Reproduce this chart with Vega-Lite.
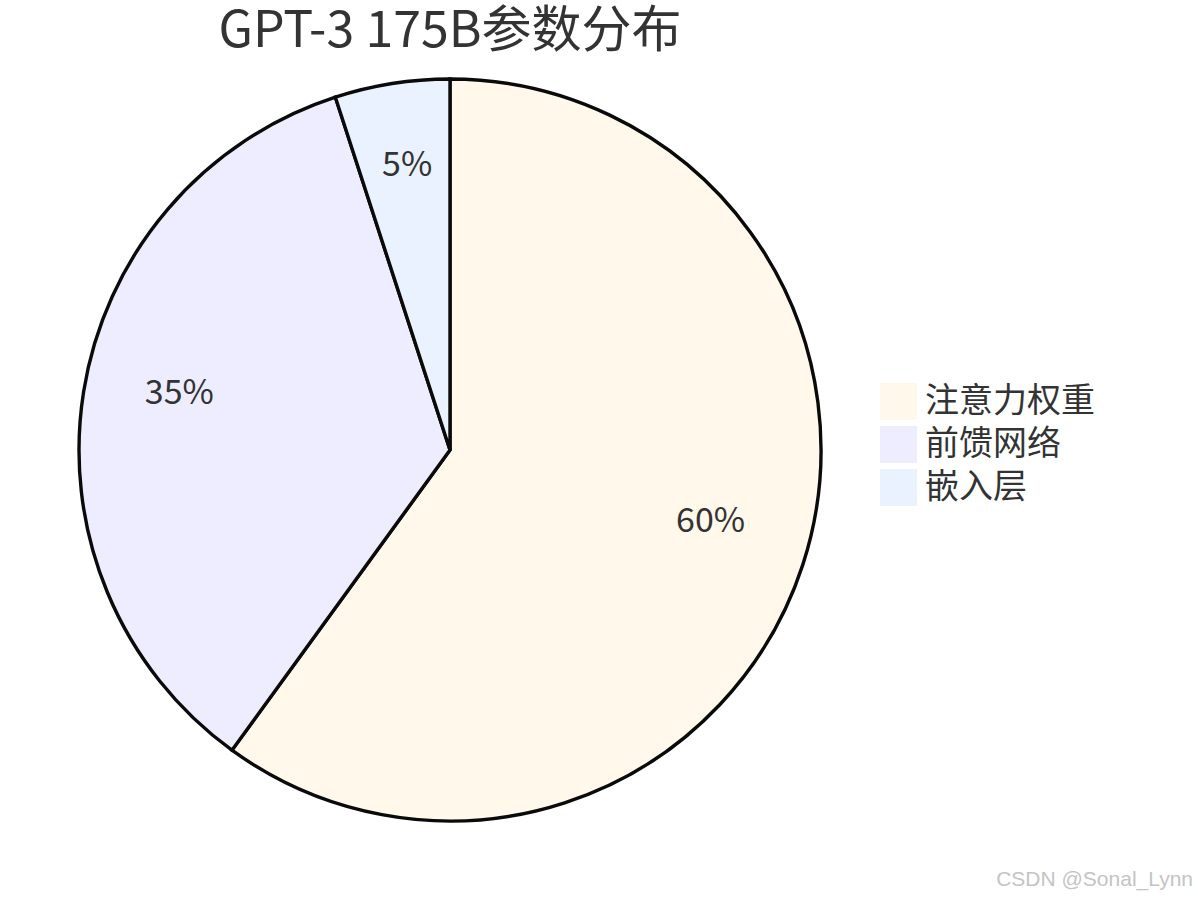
{
  "$schema": "https://vega.github.io/schema/vega-lite/v6.json",
  "width": 744,
  "height": 744,
  "autosize": {"type": "none"},
  "padding": {"left": 78, "top": 78, "right": 376, "bottom": 78},
  "background": "white",
  "config": {"view": {"stroke": null}, "font": "Noto Sans CJK SC"},
  "title": {
    "text": "GPT-3 175B参数分布",
    "font": "Noto Sans CJK SC",
    "fontSize": 50,
    "fontWeight": "normal",
    "color": "#333333",
    "anchor": "middle",
    "baseline": "alphabetic",
    "offset": -25
  },
  "layer": [
    {
      "data": {
        "values": [
          {"类别": "注意力权重", "占比": 60, "序": 1, "标签": "60%"},
          {"类别": "前馈网络", "占比": 35, "序": 2, "标签": "35%"},
          {"类别": "嵌入层", "占比": 5, "序": 3, "标签": "5%"}
        ]
      },
      "encoding": {
        "theta": {"field": "占比", "type": "quantitative", "stack": true},
        "order": {"field": "序", "type": "quantitative"}
      },
      "layer": [
        {
          "mark": {"type": "arc", "outerRadius": 371, "stroke": "#0a0a0a", "strokeWidth": 3.4},
          "encoding": {
            "color": {
              "field": "类别",
              "type": "nominal",
              "scale": {"domain": ["注意力权重", "前馈网络", "嵌入层"], "range": ["#fff8eb", "#eeedff", "#eaf2ff"]},
              "legend": {
                "title": null,
                "orient": "none",
                "legendX": 802,
                "legendY": 305,
                "symbolType": "square",
                "symbolSize": 1369,
                "symbolStrokeWidth": 0,
                "labelFont": "Noto Sans CJK SC",
                "labelFontSize": 34,
                "labelColor": "#333333",
                "labelLimit": 400,
                "labelOffset": 8,
                "rowPadding": 6,
                "symbolOffset": 0
              }
            }
          }
        },
        {
          "mark": {"type": "text", "radius": 274, "baseline": "alphabetic", "dy": -3, "font": "Noto Sans CJK SC", "fontSize": 34, "color": "#333333"},
          "encoding": {
            "text": {"field": "标签", "type": "nominal"}
          }
        }
      ]
    },
    {
      "data": {"values": [{"水印": "CSDN @Sonal_Lynn"}]},
      "mark": {"type": "text", "align": "right", "baseline": "middle", "font": "Liberation Sans", "fontSize": 21, "color": "#c4c4c4"},
      "encoding": {
        "text": {"field": "水印", "type": "nominal"},
        "x": {"value": 1115},
        "y": {"value": 802}
      }
    }
  ]
}
